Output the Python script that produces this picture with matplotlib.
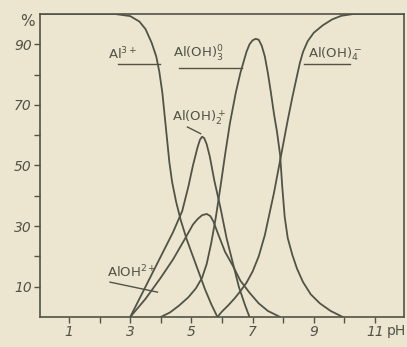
import matplotlib.pyplot as plt

# pH / percent readings for each aluminium species (hand-drawn curves)
al3_ph = [0.0, 2.5, 3.0, 3.3, 3.5, 3.7, 3.85, 3.95, 4.05, 4.12, 4.2, 4.28, 4.37, 4.5, 4.65, 4.85,
          5.05, 5.25, 5.45, 5.65, 5.85]
al3_pc = [100, 100, 99.3, 97.5, 95, 90.5, 86, 81, 74, 67, 59, 51, 44.5, 38, 32, 25.5,
          20, 14.5, 9, 4.2, 0]

aloh2_ph = [3.0, 3.5, 4.0, 4.4, 4.8, 5.05, 5.2, 5.35, 5.5, 5.62, 5.72, 5.85, 6.1, 6.35, 6.6, 6.9,
            7.2, 7.5, 7.9]
aloh2_pc = [0, 6, 13, 19, 26, 30.5, 32.3, 33.6, 34, 33.3, 31.5, 28, 21.5, 17, 12, 8,
            4.5, 2, 0]

aloh2p_ph = [3.0, 3.5, 4.0, 4.4, 4.7, 4.9, 5.05, 5.2, 5.28, 5.35, 5.42, 5.5, 5.6, 5.75, 5.95, 6.15,
             6.35, 6.55, 6.75, 6.9]
aloh2p_pc = [0, 10, 20, 28, 35, 43, 50, 56, 58.5, 59.5, 59, 57, 53, 45, 36, 26,
             18, 10, 4, 0]

aloh3_ph = [4.0, 4.3, 4.6, 4.9, 5.15, 5.35, 5.5, 5.65, 5.8, 5.95, 6.1, 6.26, 6.45, 6.6, 6.8, 6.9,
            7.0, 7.1, 7.2, 7.3, 7.4, 7.5, 7.6, 7.7, 7.8, 7.9, 7.97, 8.05, 8.15, 8.3, 8.45,
            8.65, 8.9, 9.2, 9.55, 9.95]
aloh3_pc = [0, 1.5, 3.8, 6.5, 9.5, 13, 17.5, 24.5, 33, 43, 53.5, 64, 74, 80.5, 87.5, 90,
            91.3, 91.8, 91.5, 89.5, 86, 80.5, 74, 67, 61, 53.5, 43, 33, 26, 20.5, 16,
            11.5, 7.5, 4.5, 2, 0]

aloh4_ph = [5.85, 6.0, 6.2, 6.4, 6.6, 6.8, 7.0, 7.2, 7.4, 7.55, 7.7, 7.85, 8.0, 8.15, 8.3, 8.45,
            8.55, 8.65, 8.8, 9.0, 9.3, 9.6, 9.9, 10.3, 11.95]
aloh4_pc = [0, 1.8, 3.8, 6, 8.5, 11.3, 15, 20, 27, 34, 41, 49, 57, 65, 72.5, 79.5,
            84, 87.5, 91, 93.8, 96.3, 98.2, 99.4, 100, 100]

x_ticks = [1, 2, 3, 4, 5, 6, 7, 8, 9, 10, 11]
x_labels = ['1', '', '3', '', '5', '', '7', '', '9', '', '11']
y_ticks = [10, 20, 30, 40, 50, 60, 70, 80, 90]
y_labels = ['10', '', '30', '', '50', '', '70', '', '90']

paper = '#ece6d1'
ink = '#505346'

fig = plt.figure(figsize=(4.07, 3.47), dpi=100, facecolor=paper)
ax = fig.add_axes([0.0983, 0.0865, 0.8943, 0.8732], facecolor=paper)

for xs, ys in [(al3_ph, al3_pc), (aloh2_ph, aloh2_pc), (aloh2p_ph, aloh2p_pc),
               (aloh3_ph, aloh3_pc), (aloh4_ph, aloh4_pc)]:
    ax.plot(xs, ys, color=ink, lw=1.3, solid_capstyle='round', solid_joinstyle='round')

ax.set_xlim(0.05, 11.95)
ax.set_ylim(0, 100)
ax.set_xticks(x_ticks)
ax.set_xticklabels(x_labels, fontstyle='italic', fontsize=10, color=ink)
ax.set_yticks(y_ticks)
ax.set_yticklabels(y_labels, fontstyle='italic', fontsize=10, color=ink)
ax.tick_params(length=4, width=1, color=ink, pad=2)
for s in ax.spines.values():
    s.set_color(ink)
    s.set_linewidth(1.2)

# labels with their leader lines
tk = dict(color=ink, fontsize=9.5)
ax.text(2.28, 85, r'Al$^{3+}$', **tk)
ax.plot([2.6, 3.98], [83.6, 83.6], color=ink, lw=1)
ax.text(4.41, 85.5, r'Al(OH)$_3^0$', **tk)
ax.plot([4.58, 6.67], [82.2, 82.2], color=ink, lw=1)
ax.text(8.8, 85.8, r'Al(OH)$_4^-$', **tk)
ax.plot([8.67, 10.2], [83.4, 83.4], color=ink, lw=1)
ax.text(4.38, 64.5, r'Al(OH)$_2^+$', **tk)
ax.plot([4.87, 5.3], [62.7, 60.5], color=ink, lw=1)
ax.text(2.25, 13, r'AlOH$^{2+}$', **tk)
ax.plot([2.34, 3.89], [11.5, 8.2], color=ink, lw=1)

fig.text(27 / 407, 1 - 22 / 347, '%', color=ink, fontsize=11, ha='center', va='center')
fig.text(387 / 407, 1 - 331 / 347, 'pH', color=ink, fontsize=10, ha='left', va='center')

fig.savefig('out.png', dpi=100, facecolor=paper)
